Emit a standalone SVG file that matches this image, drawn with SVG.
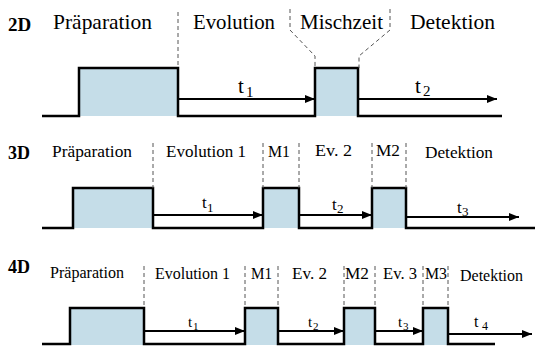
<svg xmlns="http://www.w3.org/2000/svg" width="535" height="346" viewBox="0 0 535 346">
<defs>
<marker id="ah" markerUnits="userSpaceOnUse" markerWidth="12" markerHeight="8" refX="10" refY="4" orient="auto">
<path d="M0,0 L10,4 L0,8 Z" fill="#000"/>
</marker>
</defs>
<style>
text{font-family:'Liberation Serif','DejaVu Serif',serif;fill:#000}
.lbl{font-weight:bold}
.pulse{fill:#c5dde8;stroke:none}
.wave{fill:none;stroke:#000;stroke-width:2.5;stroke-linejoin:miter}
.arr{stroke:#000;stroke-width:2;fill:none;marker-end:url(#ah)}
.dash{stroke:#555;stroke-width:1;stroke-dasharray:4 3;fill:none}
</style>
<rect width="535" height="346" fill="#fff"/>

<g font-family="Liberation Serif, DejaVu Serif, serif">
<!-- 2D -->
<g id="row2D">
<text class="lbl" x="8" y="31" font-size="19">2D</text>
<text x="53" y="29" font-size="21" textLength="99" lengthAdjust="spacingAndGlyphs">Präparation</text>
<text x="193" y="29" font-size="21" textLength="82" lengthAdjust="spacingAndGlyphs">Evolution</text>
<text x="300" y="29" font-size="21" textLength="83" lengthAdjust="spacingAndGlyphs">Mischzeit</text>
<text x="410" y="29" font-size="21" textLength="85" lengthAdjust="spacingAndGlyphs">Detektion</text>
<g id="p2d1"><rect class="pulse" x="79" y="68" width="99" height="48"/></g>
<g id="p2d2"><rect class="pulse" x="315" y="68" width="43" height="48"/></g>
<path class="wave" d="M42,116 H79 V68 H178 V116 H315 V68 H358 V116 H502"/>
<text x="238" y="93" font-size="21">t</text><text x="246" y="97" font-size="15">1</text>
<text x="415" y="93" font-size="21">t</text><text x="423" y="96" font-size="15">2</text>
</g>

<!-- 3D -->
<g id="row3D">
<text class="lbl" x="8" y="159" font-size="18">3D</text>
<text x="52" y="157" font-size="17.5" textLength="80" lengthAdjust="spacingAndGlyphs">Präparation</text>
<text x="166" y="157" font-size="17.5" textLength="80" lengthAdjust="spacingAndGlyphs">Evolution 1</text>
<text x="268" y="157" font-size="17.5" textLength="22" lengthAdjust="spacingAndGlyphs">M1</text>
<text x="315" y="156" font-size="17.5" textLength="37" lengthAdjust="spacingAndGlyphs">Ev. 2</text>
<text x="376" y="156" font-size="17.5" textLength="24" lengthAdjust="spacingAndGlyphs">M2</text>
<text x="425" y="158" font-size="17.5" textLength="68" lengthAdjust="spacingAndGlyphs">Detektion</text>
<g id="p3d1"><rect class="pulse" x="73" y="188" width="80" height="40"/></g>
<g id="p3d2"><rect class="pulse" x="263" y="188" width="36" height="40"/></g>
<g id="p3d3"><rect class="pulse" x="372" y="188" width="34" height="40"/></g>
<path class="wave" d="M42,228 H73 V188 H153 V228 H263 V188 H299 V228 H372 V188 H406 V228 H535"/>
<text x="202" y="208" font-size="17">t</text><text x="207" y="212" font-size="13">1</text>
<text x="332" y="210" font-size="17">t</text><text x="337" y="213" font-size="13">2</text>
<text x="457" y="213" font-size="17">t</text><text x="462" y="216" font-size="13">3</text>
</g>

<!-- 4D -->
<g id="row4D">
<text class="lbl" x="8" y="273" font-size="18">4D</text>
<text x="50" y="278" font-size="16" textLength="74" lengthAdjust="spacingAndGlyphs">Präparation</text>
<text x="155" y="279" font-size="16" textLength="75" lengthAdjust="spacingAndGlyphs">Evolution 1</text>
<text x="251" y="279" font-size="16" textLength="21" lengthAdjust="spacingAndGlyphs">M1</text>
<text x="292" y="279" font-size="16" textLength="35" lengthAdjust="spacingAndGlyphs">Ev. 2</text>
<text x="345" y="279" font-size="16" textLength="24" lengthAdjust="spacingAndGlyphs">M2</text>
<text x="383" y="279" font-size="16" textLength="34" lengthAdjust="spacingAndGlyphs">Ev. 3</text>
<text x="425" y="279" font-size="16" textLength="22" lengthAdjust="spacingAndGlyphs">M3</text>
<text x="460" y="281" font-size="16" textLength="63" lengthAdjust="spacingAndGlyphs">Detektion</text>
<g id="p4d1"><rect class="pulse" x="70" y="308" width="74" height="37"/></g>
<g id="p4d2"><rect class="pulse" x="245" y="308" width="33" height="37"/></g>
<g id="p4d3"><rect class="pulse" x="344" y="308" width="31" height="37"/></g>
<g id="p4d4"><rect class="pulse" x="423" y="308" width="25" height="37"/></g>
<path class="wave" d="M42,344 H70 V308 H144 V344 H245 V308 H278 V344 H344 V308 H375 V344 H423 V308 H448 V344 H495"/>
<text x="188" y="327" font-size="15">t</text><text x="193" y="330" font-size="11">1</text>
<text x="308" y="327" font-size="15">t</text><text x="313" y="330" font-size="11">2</text>
<text x="398" y="327" font-size="15">t</text><text x="403" y="330" font-size="11">3</text>
<text x="474" y="327" font-size="16">t</text><text x="482" y="330" font-size="12">4</text>
</g>
</g>

<g id="connectors">
<!-- 2D -->
<line class="arr" x1="178" y1="99" x2="315" y2="99"/>
<line class="arr" x1="358" y1="99" x2="497" y2="99"/>
<path class="dash" d="M178,12 V68"/>
<path class="dash" d="M290,9 V30 L315,56 V68"/>
<path class="dash" d="M390,9 V30 L359,56 V68"/>
<!-- 3D -->
<line class="arr" x1="153" y1="215" x2="263" y2="215"/>
<line class="arr" x1="299" y1="215" x2="372" y2="215"/>
<line class="arr" x1="406" y1="217" x2="519" y2="217" stroke-width="1.5"/>
<path class="dash" d="M153,143 V188 M263,143 V188 M299,143 V188 M372,143 V188 M406,143 V188"/>
<!-- 4D -->
<line class="arr" x1="144" y1="331" x2="245" y2="331"/>
<line class="arr" x1="278" y1="331" x2="344" y2="331"/>
<line class="arr" x1="375" y1="331" x2="423" y2="331"/>
<line class="arr" x1="448" y1="334" x2="532" y2="334"/>
<path class="dash" d="M144,266 V308 M245,266 V308 M278,266 V308 M344,266 V308 M375,266 V308 M423,266 V308 M448,266 V308"/>
</g>
</svg>
